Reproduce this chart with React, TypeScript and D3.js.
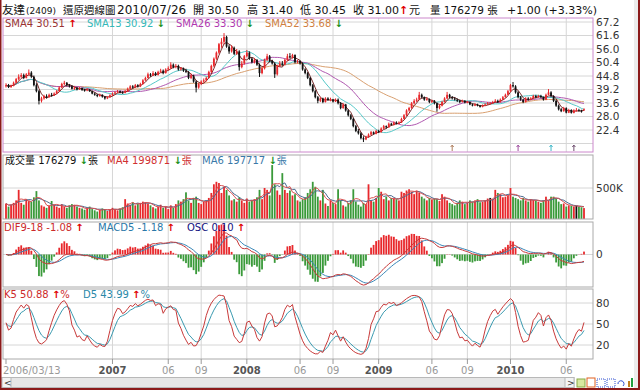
import * as d3 from 'd3'

// weekly bars, first week 2006/03/13
const startDate = new Date(2006, 2, 13)

// [open, high, low, close]
const candles: number[][] = [
	[40.5, 41.8, 40.0, 41.0], [41.0, 41.5, 39.8, 40.2], [40.2, 41.2, 39.9, 40.8], [40.8, 42.5, 40.5, 42.0],
	[42.0, 44.0, 41.8, 43.5], [43.5, 45.5, 43.0, 44.5], [44.5, 46.0, 44.0, 45.2], [45.2, 45.8, 43.5, 44.0],
	[44.0, 46.0, 43.8, 45.5], [45.5, 47.5, 45.0, 46.2], [46.2, 46.8, 44.0, 44.5], [44.5, 45.0, 40.5, 41.0],
	[41.0, 41.8, 38.0, 38.5], [38.5, 39.0, 33.0, 34.5], [34.5, 36.2, 33.8, 35.5], [35.5, 37.0, 35.0, 36.5],
	[36.5, 37.2, 35.5, 36.0], [36.0, 37.5, 35.8, 37.0], [37.0, 37.8, 36.2, 36.8], [36.8, 38.0, 36.5, 37.5],
	[37.5, 39.0, 37.2, 38.5], [38.5, 40.5, 38.2, 40.0], [40.0, 42.0, 39.8, 41.5], [41.5, 42.8, 41.0, 42.0],
	[42.0, 42.3, 40.5, 41.0], [41.0, 41.5, 40.0, 40.5], [40.5, 41.0, 39.2, 39.5], [39.5, 40.5, 39.0, 40.0],
	[40.0, 40.2, 38.8, 39.2], [39.2, 40.2, 39.0, 39.8], [39.8, 40.0, 38.6, 39.0], [39.0, 39.5, 38.3, 38.8],
	[38.8, 39.8, 38.5, 39.2], [39.2, 39.4, 38.2, 38.5], [38.5, 38.8, 37.2, 37.5], [37.5, 38.0, 36.6, 37.0],
	[37.0, 37.3, 36.0, 36.5], [36.5, 37.5, 36.2, 37.0], [37.0, 37.2, 35.8, 36.2], [36.2, 36.5, 35.0, 35.5],
	[35.5, 36.4, 35.2, 36.0], [36.0, 37.2, 35.8, 36.8], [36.8, 38.0, 36.5, 37.5], [37.5, 38.5, 37.2, 38.0],
	[38.0, 39.0, 37.8, 38.5], [38.5, 38.8, 37.6, 38.0], [38.0, 38.5, 37.4, 37.8], [37.8, 39.0, 37.6, 38.5],
	[38.5, 40.0, 38.2, 39.5], [39.5, 41.0, 39.2, 40.5], [40.5, 41.0, 39.6, 40.0], [40.0, 41.5, 39.8, 41.0],
	[41.0, 41.4, 40.0, 40.5], [40.5, 42.0, 40.2, 41.5], [41.5, 43.5, 41.2, 43.0], [43.0, 44.5, 42.8, 44.0],
	[44.0, 46.2, 43.8, 45.5], [45.5, 46.0, 44.5, 45.0], [45.0, 46.8, 44.8, 46.0], [46.0, 46.5, 44.8, 45.2],
	[45.2, 47.0, 45.0, 46.5], [46.5, 47.8, 46.2, 47.0], [47.0, 47.5, 45.5, 46.0], [46.0, 48.0, 45.8, 47.5],
	[47.5, 48.8, 47.0, 48.0], [48.0, 50.5, 47.8, 49.5], [49.5, 50.0, 48.0, 48.5], [48.5, 49.8, 48.0, 49.0],
	[49.0, 49.5, 47.0, 47.5], [47.5, 48.5, 47.0, 48.0], [48.0, 48.3, 46.5, 47.0], [47.0, 47.8, 46.0, 46.5],
	[46.5, 46.8, 43.5, 44.0], [44.0, 45.8, 43.5, 45.0], [45.0, 45.3, 42.0, 42.5], [42.5, 43.0, 38.0, 40.0],
	[40.0, 42.0, 39.5, 41.5], [41.5, 43.0, 41.0, 42.5], [42.5, 43.8, 42.0, 43.0], [43.0, 44.5, 42.5, 44.0],
	[44.0, 47.0, 43.8, 46.5], [46.5, 49.5, 46.0, 49.0], [49.0, 52.5, 48.5, 52.0], [52.0, 55.0, 51.5, 54.5],
	[54.5, 58.5, 54.0, 58.0], [58.0, 60.5, 56.5, 59.0], [59.0, 62.6, 58.0, 61.0], [61.0, 61.5, 56.5, 57.0],
	[57.0, 57.8, 54.0, 55.0], [55.0, 57.5, 54.5, 56.5], [56.5, 57.0, 53.5, 54.0], [54.0, 56.0, 53.5, 55.0],
	[55.0, 55.5, 47.0, 48.5], [48.5, 51.0, 48.0, 50.0], [50.0, 53.5, 49.5, 53.0], [53.0, 55.6, 52.5, 54.5],
	[54.5, 55.0, 51.5, 52.0], [52.0, 52.5, 50.0, 50.5], [50.5, 52.2, 50.0, 51.5], [51.5, 51.8, 49.0, 49.5],
	[49.5, 50.0, 44.4, 46.0], [46.0, 48.5, 45.5, 48.0], [48.0, 52.0, 47.5, 51.5], [51.5, 54.0, 51.0, 53.0],
	[53.0, 53.5, 50.5, 51.0], [51.0, 51.5, 49.5, 50.0], [50.0, 50.5, 44.0, 45.5], [45.5, 49.5, 45.0, 49.0],
	[49.0, 51.0, 48.5, 50.0], [50.0, 51.0, 49.0, 49.5], [49.5, 52.0, 49.2, 51.5], [51.5, 54.0, 51.0, 53.0],
	[53.0, 54.3, 52.0, 52.5], [52.5, 54.0, 52.0, 53.5], [53.5, 53.8, 50.0, 50.5], [50.5, 51.5, 50.0, 51.0],
	[51.0, 51.3, 49.5, 50.0], [50.0, 50.5, 47.0, 47.5], [47.5, 48.0, 45.5, 46.0], [46.0, 46.5, 43.5, 44.0],
	[44.0, 44.5, 40.5, 41.0], [41.0, 41.5, 38.0, 38.5], [38.5, 39.0, 35.5, 36.0], [36.0, 36.5, 33.5, 34.5],
	[34.5, 36.0, 34.0, 35.5], [35.5, 35.8, 33.5, 34.0], [34.0, 36.0, 33.8, 35.5], [35.5, 36.0, 34.5, 34.8],
	[34.8, 35.8, 34.3, 35.0], [35.0, 35.3, 33.8, 34.2], [34.2, 35.5, 34.0, 35.0], [35.0, 35.5, 33.0, 33.5],
	[33.5, 34.0, 31.0, 31.5], [31.5, 33.5, 31.2, 33.0], [33.0, 33.2, 30.0, 30.5], [30.5, 31.0, 28.0, 28.5],
	[28.5, 29.0, 26.5, 27.0], [27.0, 27.5, 23.5, 24.0], [24.0, 24.5, 21.5, 22.0], [22.0, 22.8, 20.5, 21.0],
	[21.0, 21.5, 18.5, 19.0], [19.0, 19.8, 17.4, 18.5], [18.5, 20.0, 18.2, 19.5], [19.5, 21.0, 19.2, 20.5],
	[20.5, 22.0, 20.2, 21.5], [21.5, 21.8, 20.5, 20.8], [20.8, 22.5, 20.6, 22.0], [22.0, 22.5, 21.2, 21.5],
	[21.5, 23.5, 21.3, 23.0], [23.0, 24.5, 22.8, 24.0], [24.0, 24.3, 23.0, 23.5], [23.5, 25.5, 23.3, 25.0],
	[25.0, 25.4, 24.2, 24.5], [24.5, 26.0, 24.3, 25.5], [25.5, 26.0, 24.7, 25.0], [25.0, 26.0, 24.8, 25.5],
	[25.5, 27.5, 25.3, 27.0], [27.0, 29.0, 26.8, 28.5], [28.5, 31.0, 28.2, 30.5], [30.5, 32.0, 30.0, 31.5],
	[31.5, 34.0, 31.2, 33.5], [33.5, 35.2, 33.0, 34.5], [34.5, 35.8, 34.0, 35.0], [35.0, 38.2, 34.8, 37.0],
	[37.0, 37.5, 35.5, 36.0], [36.0, 36.3, 34.5, 35.0], [35.0, 36.0, 34.6, 35.2], [35.2, 35.5, 33.5, 34.0],
	[34.0, 35.0, 33.6, 34.5], [34.5, 34.8, 33.0, 33.5], [33.5, 33.8, 30.0, 31.5], [31.5, 33.0, 31.0, 32.5],
	[32.5, 34.5, 32.2, 34.0], [34.0, 36.0, 33.8, 35.5], [35.5, 38.2, 35.2, 37.0], [37.0, 37.4, 35.5, 36.0],
	[36.0, 36.5, 35.0, 35.5], [35.5, 36.0, 34.6, 35.0], [35.0, 35.5, 34.0, 34.5], [34.5, 35.0, 33.5, 34.0],
	[34.0, 35.0, 33.8, 34.5], [34.5, 34.8, 33.4, 33.8], [33.8, 34.5, 33.5, 34.0], [34.0, 34.2, 32.7, 33.0],
	[33.0, 33.4, 32.2, 32.5], [32.5, 33.5, 32.3, 33.0], [33.0, 33.3, 32.2, 32.5], [32.5, 32.8, 31.7, 32.0],
	[32.0, 33.0, 31.8, 32.5], [32.5, 33.5, 32.3, 33.0], [33.0, 34.0, 32.8, 33.5], [33.5, 34.0, 33.0, 33.5],
	[33.5, 34.5, 33.2, 34.0], [34.0, 35.2, 33.8, 34.5], [34.5, 35.0, 33.6, 34.0], [34.0, 35.5, 33.8, 35.0],
	[35.0, 36.5, 34.8, 36.0], [36.0, 37.5, 35.8, 37.0], [37.0, 39.0, 36.8, 38.5], [38.5, 41.5, 38.2, 41.0],
	[41.0, 42.3, 40.0, 40.5], [40.5, 41.0, 37.5, 38.0], [38.0, 38.5, 35.5, 36.0], [36.0, 36.5, 34.5, 35.0],
	[35.0, 35.3, 33.5, 34.0], [34.0, 36.0, 33.8, 35.5], [35.5, 36.0, 34.6, 35.0], [35.0, 36.0, 34.8, 35.5],
	[35.5, 37.0, 35.2, 36.5], [36.5, 37.0, 35.6, 36.0], [36.0, 37.0, 35.8, 36.5], [36.5, 37.0, 35.6, 36.0],
	[36.0, 36.3, 34.6, 35.0], [35.0, 37.5, 34.8, 37.0], [37.0, 39.4, 36.8, 38.0], [38.0, 38.5, 36.0, 36.5],
	[36.5, 36.8, 34.0, 34.5], [34.5, 35.0, 32.0, 32.5], [32.5, 33.0, 30.5, 31.0], [31.0, 31.5, 29.8, 30.2],
	[30.2, 32.0, 30.0, 31.5], [31.5, 31.8, 29.3, 29.6], [29.6, 31.2, 29.4, 30.7], [30.7, 31.0, 29.2, 29.5],
	[29.5, 31.0, 29.3, 30.6], [30.2, 31.5, 30.0, 30.6], [30.6, 31.2, 30.2, 30.4], [30.4, 30.8, 29.6, 30.0],
	[30.5, 31.4, 30.45, 31.0],
]

// weekly volume, thousand lots
const volumes = [
	250, 200, 230, 260, 300, 470, 260, 230, 320, 300, 280, 350, 450, 300, 220, 200, 180, 220, 290, 230,
	200, 180, 240, 200, 180, 220, 240, 230, 200, 180, 170, 150, 180, 200, 160, 140, 120, 150, 170, 160,
	130, 150, 180, 160, 140, 170, 190, 320, 250, 230, 270, 220, 250, 260, 280, 270, 250, 220, 190, 170,
	200, 230, 180, 200, 160, 220, 180, 240, 300, 280, 320, 430, 300, 260, 340, 360, 260, 240, 280, 300,
	340, 420, 560, 600, 580, 420, 520, 470, 380, 300, 320, 280, 350, 300, 260, 330, 280, 300, 320, 350,
	470, 320, 500, 470, 380, 870, 560, 460, 390, 740, 470, 420, 460, 380, 400, 300, 280, 320, 350, 420,
	480, 600, 520, 360, 300, 470, 250, 210, 300, 260, 240, 480, 300, 220, 200, 260, 300, 480, 280, 230,
	200, 260, 240, 560, 300, 280, 340, 500, 440, 320, 360, 300, 340, 330, 320, 300, 440, 420, 460, 480,
	440, 400, 460, 420, 360, 330, 300, 340, 310, 330, 320, 290, 400, 360, 300, 260, 240, 220, 260, 300,
	280, 240, 260, 300, 280, 300, 320, 270, 280, 300, 330, 340, 320, 470, 420, 400, 350, 360, 380, 500,
	360, 340, 320, 300, 340, 300, 280, 320, 310, 300, 280, 260, 300, 360, 300, 360, 360, 330, 280, 240,
	250, 200, 220, 210, 200, 215, 200, 190, 176,
]

const priceTicks = [67.2, 61.6, 56.0, 50.4, 44.8, 39.2, 33.6, 28.0, 22.4]
const priceGrid = [...priceTicks, 16.8]
const kdTicks = [80, 50, 20]
const axisMonths = ['2007-01', '2007-06', '2007-09', '2008-01', '2008-06', '2008-09', '2009-01', '2009-06', '2009-09', '2010-01', '2010-06']
const axisLabels = ['2007', '06', '09', '2008', '06', '09', '2009', '06', '09', '2010', '06']
const eventDates = ['2009-07-27', '2010-01-25', '2010-04-26', '2010-06-28']
const eventColors = ['#b08060', '#a050a0', '#40b8c8', '#705070']

const W = 640
const H = 390
const L = 3
const R = 593
const mainP = { top: 18, bottom: 152 }
const volP = { top: 155, bottom: 219 }
const macdP = { top: 222, bottom: 287 }
const kdP = { top: 289, bottom: 359 }

const UP = '#e8282c'
const DOWN_BAR = '#3a9a3a'
const FONT = 'DejaVu Sans, Verdana, sans-serif'
const CJK = 'DejaVu Sans, "Noto Sans CJK TC", sans-serif'

const n = candles.length
const weekMs = 7 * 24 * 3600 * 1000
const dates = candles.map((_, i) => new Date(startDate.getTime() + i * weekMs + 3600 * 1000 * 2))
const closes = candles.map((c) => c[3])

function movingAvg(vals: number[], len: number) {
	return vals.map((_, i) => d3.mean(vals.slice(Math.max(0, i - len + 1), i + 1)) as number)
}
function ema(vals: number[], len: number) {
	const a = 2 / (len + 1)
	const out: number[] = []
	vals.forEach((v, i) => out.push(i === 0 ? v : out[i - 1] + a * (v - out[i - 1])))
	return out
}

const sma4 = movingAvg(closes, 4)
const sma13 = movingAvg(closes, 13)
const sma26 = movingAvg(closes, 26)
const sma52 = movingAvg(closes, 52)
const volMa4 = movingAvg(volumes, 4)
const volMa6 = movingAvg(volumes, 6)

const ema9 = ema(closes, 9)
const ema18 = ema(closes, 18)
const dif = closes.map((_, i) => ema9[i] - ema18[i])
const macd = ema(dif, 5)
const osc = dif.map((v, i) => v - macd[i])

const kLine: number[] = []
const dLine: number[] = []
{
	let k = 50
	let d = 50
	candles.forEach((c, i) => {
		const win = candles.slice(Math.max(0, i - 4), i + 1)
		const hi = d3.max(win, (w) => w[1]) as number
		const lo = d3.min(win, (w) => w[2]) as number
		const rsv = hi === lo ? 50 : ((c[3] - lo) / (hi - lo)) * 100
		k = (k * 2) / 3 + rsv / 3
		d = (d * 2) / 3 + k / 3
		kLine.push(k)
		dLine.push(d)
	})
}

export default function App() {
	const x = d3.scaleLinear().domain([0, n - 1]).range([6, 584])
	const y = d3.scaleLinear().domain([16.8, 67.2]).range([143.5, 22])
	const yVol = d3.scaleLinear().domain([0, 1000]).range([volP.bottom, volP.bottom - 62])
	const lineMax = (d3.max([...dif, ...macd].map(Math.abs)) as number) * 1.03
	const yMacd = d3.scaleLinear().domain([-lineMax, lineMax]).range([macdP.bottom - 1, macdP.top + 1])
	const oscMax = (d3.max(osc.map(Math.abs)) as number) * 1.05
	const yOsc = d3.scaleLinear().domain([-oscMax, oscMax]).range([macdP.bottom - 1, macdP.top + 1])
	const yKd = d3.scaleLinear().domain([0, 100]).range([kdP.bottom, kdP.top])

	const tickIdx = axisMonths.map((m) => {
		const [yy, mm] = m.split('-').map(Number)
		const first = new Date(yy, mm - 1, 1)
		return dates.findIndex((d) => d >= first)
	})
	const eventIdx = eventDates.map((s) => {
		const t = new Date(s + 'T12:00:00').getTime()
		return d3.minIndex(dates, (d) => Math.abs(d.getTime() - t))
	})

	const line = (vals: number[], scale: d3.ScaleLinear<number, number>) =>
		d3
			.line<number>()
			.x((_, i) => x(i))
			.y((v) => scale(v))(vals) as string

	const vGrid = (top: number, bottom: number) =>
		tickIdx.map((ti, j) => <line key={j} x1={x(ti)} x2={x(ti)} y1={top} y2={bottom} stroke="#d6d6d6" />)

	const bw = 1.8
	const arrowUp = (
		<tspan fill="#e00000" fontWeight="bold">
			↑
		</tspan>
	)
	const arrowDown = (
		<tspan fill="#189018" fontWeight="bold">
			↓
		</tspan>
	)

	return (
		<div style={{ position: 'absolute', left: 0, top: 0, width: W, height: H, background: '#fff' }}>
			<svg width={W} height={H} viewBox={`0 0 ${W} ${H}`} style={{ display: 'block' }}>
				<rect x={0} y={0} width={W} height={H} fill="#fff" />

				{/* title */}
				<g fontFamily={CJK} fill="#111">
					<text x={2} y={14} fontSize={11.5}>
						友達
					</text>
					<text x={26} y={14} fontSize={9} fontFamily={FONT}>
						(2409)
					</text>
					<text x={63} y={14} fontSize={10.5}>
						還原週線圖
					</text>
					<text x={117} y={14} fontSize={12} fontFamily={FONT}>
						2010/07/26
					</text>
					<text x={193} y={14} fontSize={11}>
						開 30.50
					</text>
					<text x={247} y={14} fontSize={11}>
						高 31.40
					</text>
					<text x={300} y={14} fontSize={11}>
						低 30.45
					</text>
					<text x={353} y={14} fontSize={11}>
						收 31.00
					</text>
					<text x={399} y={14} fontSize={11} fill="#e00000" fontWeight="bold">
						↑
					</text>
					<text x={409} y={14} fontSize={11}>
						元
					</text>
					<text x={430} y={14} fontSize={10.5}>
						量 176279 張
					</text>
					<text x={507} y={14} fontSize={11}>
						+1.00 (+3.33%)
					</text>
				</g>

				{/* main price panel */}
				<g>
					{priceGrid.map((p) => (
						<line key={p} x1={L} x2={R} y1={y(p)} y2={y(p)} stroke="#d6d6d6" />
					))}
					{vGrid(mainP.top, mainP.bottom)}
					<path d={line(sma52, y)} fill="none" stroke="#d9a070" strokeWidth={1} />
					<path d={line(sma26, y)} fill="none" stroke="#b058b0" strokeWidth={1} />
					<path d={line(sma13, y)} fill="none" stroke="#55c8c8" strokeWidth={1} />
					<path d={line(sma4, y)} fill="none" stroke="#7a2a2a" strokeWidth={1} />
					{candles.map((c, i) => {
						const [o, h, l, cl] = c
						const col = cl >= o ? UP : '#111'
						const top = y(Math.max(o, cl))
						const bh = Math.max(1, y(Math.min(o, cl)) - top)
						return (
							<g key={i}>
								<line x1={x(i)} x2={x(i)} y1={y(h)} y2={y(l)} stroke={col} strokeWidth={1} />
								<rect x={x(i) - bw / 2} y={top} width={bw} height={bh} fill={col} />
							</g>
						)
					})}
					{eventIdx.map((ei, j) => (
						<g key={j} stroke={eventColors[j]} fill={eventColors[j]}>
							<line x1={x(ei)} x2={x(ei)} y1={mainP.bottom - 6} y2={mainP.bottom - 1} />
							<path d={`M${x(ei) - 1.5},${mainP.bottom - 5}L${x(ei)},${mainP.bottom - 7}L${x(ei) + 1.5},${mainP.bottom - 5}`} fill="none" />
						</g>
					))}
					<rect x={L} y={mainP.top} width={R - L} height={mainP.bottom - mainP.top} fill="none" stroke="#cc88cc" />
					<g fontFamily={FONT} fontSize={10}>
						<text x={5} y={27} fill="#993333">
							SMA4 30.51 {arrowUp}
						</text>
						<text x={87} y={27} fill="#33b8b8">
							SMA13 30.92 {arrowDown}
						</text>
						<text x={176} y={27} fill="#b038b0">
							SMA26 33.30 {arrowDown}
						</text>
						<text x={265} y={27} fill="#d08040">
							SMA52 33.68 {arrowDown}
						</text>
					</g>
					{priceTicks.map((p) => (
						<text key={p} x={596} y={y(p)} dy="0.35em" fontFamily={FONT} fontSize={10.5} fill="#333">
							{p.toFixed(1)}
						</text>
					))}
				</g>

				{/* volume panel */}
				<g>
					<line x1={L} x2={R} y1={yVol(500)} y2={yVol(500)} stroke="#d6d6d6" />
					{vGrid(volP.top, volP.bottom)}
					{volumes.map((v, i) => {
						const prev = i === 0 ? candles[0][0] : closes[i - 1]
						const col = closes[i] > prev ? UP : closes[i] < prev ? DOWN_BAR : '#111'
						return <rect key={i} x={x(i) - bw / 2} y={yVol(v)} width={bw} height={volP.bottom - yVol(v)} fill={col} />
					})}
					<path d={line(volMa6, yVol)} fill="none" stroke="#4a6a90" strokeWidth={1} />
					<path d={line(volMa4, yVol)} fill="none" stroke="#d85050" strokeWidth={1} />
					<rect x={L} y={volP.top} width={R - L} height={volP.bottom - volP.top} fill="none" stroke="#aaa" />
					<g fontFamily={CJK} fontSize={10}>
						<text x={5} y={164} fill="#111">
							成交量 176279 {arrowDown}張
						</text>
						<text x={107} y={164} fill="#d03030">
							MA4 199871 {arrowDown}張
						</text>
						<text x={202} y={164} fill="#3a78a8">
							MA6 197717 {arrowDown}張
						</text>
					</g>
					<text x={596} y={yVol(500)} dy="0.35em" fontFamily={FONT} fontSize={10.5} fill="#333">
						500K
					</text>
				</g>

				{/* MACD panel */}
				<g>
					<line x1={L} x2={R} y1={yMacd(0)} y2={yMacd(0)} stroke="#d6d6d6" />
					{vGrid(macdP.top, macdP.bottom)}
					{osc.map((v, i) => {
						const y0 = yOsc(0)
						const y1 = yOsc(v)
						return (
							<rect
								key={i}
								x={x(i) - bw / 2}
								y={Math.min(y0, y1)}
								width={bw}
								height={Math.abs(y1 - y0)}
								fill={v >= 0 ? UP : DOWN_BAR}
							/>
						)
					})}
					<path d={line(macd, yMacd)} fill="none" stroke="#3a88b8" strokeWidth={1} />
					<path d={line(dif, yMacd)} fill="none" stroke="#c83a3a" strokeWidth={1} />
					<rect x={L} y={macdP.top} width={R - L} height={macdP.bottom - macdP.top} fill="none" stroke="#aaa" />
					<g fontFamily={FONT} fontSize={10}>
						<text x={4} y={231} fill="#cc2a2a">
							DIF9-18 -1.08 {arrowUp}
						</text>
						<text x={98} y={231} fill="#2a78a8">
							MACD5 -1.18 {arrowUp}
						</text>
						<text x={187} y={231} fill="#101080">
							OSC 0.10 {arrowUp}
						</text>
					</g>
					<text x={596} y={yMacd(0)} dy="0.35em" fontFamily={FONT} fontSize={10.5} fill="#333">
						0
					</text>
				</g>

				{/* KD panel */}
				<g>
					{kdTicks.map((t) => (
						<line key={t} x1={L} x2={R} y1={yKd(t)} y2={yKd(t)} stroke="#d6d6d6" />
					))}
					{vGrid(kdP.top, kdP.bottom)}
					<path d={line(dLine, yKd)} fill="none" stroke="#3a9ab0" strokeWidth={1} />
					<path d={line(kLine, yKd)} fill="none" stroke="#c83a3a" strokeWidth={1} />
					<rect x={L} y={kdP.top} width={R - L} height={kdP.bottom - kdP.top} fill="none" stroke="#aaa" />
					<g fontFamily={FONT} fontSize={10}>
						<text x={4} y={298} fill="#cc2a2a">
							K5 50.88 {arrowUp}%
						</text>
						<text x={83} y={298} fill="#2a88a8">
							D5 43.99 {arrowUp}%
						</text>
					</g>
					{kdTicks.map((t) => (
						<text key={t} x={596} y={yKd(t)} dy="0.35em" fontFamily={FONT} fontSize={10.5} fill="#333">
							{t}
						</text>
					))}
				</g>

				{/* date axis */}
				<g fontFamily={FONT} fontSize={10}>
					<line x1={x(0)} x2={x(0)} y1={kdP.bottom} y2={kdP.bottom + 5} stroke="#999" />
					<text x={3} y={374} fill="#999">
						2006/03/13
					</text>
					{tickIdx.map((ti, j) => (
						<g key={j}>
							<line x1={x(ti)} x2={x(ti)} y1={kdP.bottom} y2={kdP.bottom + 5} stroke="#999" />
							<text
								x={x(ti)}
								y={374}
								textAnchor="middle"
								fill={axisLabels[j].length === 4 ? '#555' : '#999'}
								fontWeight={axisLabels[j].length === 4 ? 'bold' : 'normal'}
							>
								{axisLabels[j]}
							</text>
						</g>
					))}
				</g>

				{/* scrollbar and toolbar */}
				<g>
					<rect x={2} y={377.5} width={572} height={10} fill="#e6e6e6" stroke="#b8b8b8" />
					<rect x={2} y={377.5} width={9} height={10} fill="#f4f4f4" stroke="#b8b8b8" />
					<text x={4} y={386} fontFamily={FONT} fontSize={9} fill="#333">
						&lt;
					</text>
					<rect x={565} y={377.5} width={9} height={10} fill="#f4f4f4" stroke="#b8b8b8" />
					<text x={567} y={386} fontFamily={FONT} fontSize={9} fill="#333">
						&gt;
					</text>
					<rect x={577} y={379} width={8} height={8} fill="#d8e8a0" stroke="#88aa44" />
					<rect x={587} y={378} width={8} height={9} fill="#fff" stroke="#e06020" />
					<rect x={597} y={379} width={8} height={8} fill="none" stroke="#3050d0" strokeDasharray="1,1" />
					<rect x={607} y={379} width={8} height={8} fill="none" stroke="#3050d0" strokeDasharray="1,1" />
					<path d="M618,384 a3,3 0 1 1 5,2" fill="none" stroke="#3050d0" />
					<rect x={628} y={381} width={2} height={6} fill="#c08020" />
					<rect x={631} y={378} width={2} height={9} fill="#20a040" />
					<rect x={634} y={380} width={2} height={7} fill="#d03030" />
				</g>

				{/* frame */}
				<rect x={634} y={0} width={4} height={388} fill="#ececec" />
				<rect x={0} y={0} width={1.5} height={H} fill="#8b1a1a" />
				<rect x={638} y={0} width={2} height={H} fill="#8b1a1a" />
				<rect x={0} y={388} width={W} height={2} fill="#8b1a1a" />
			</svg>
		</div>
	)
}
